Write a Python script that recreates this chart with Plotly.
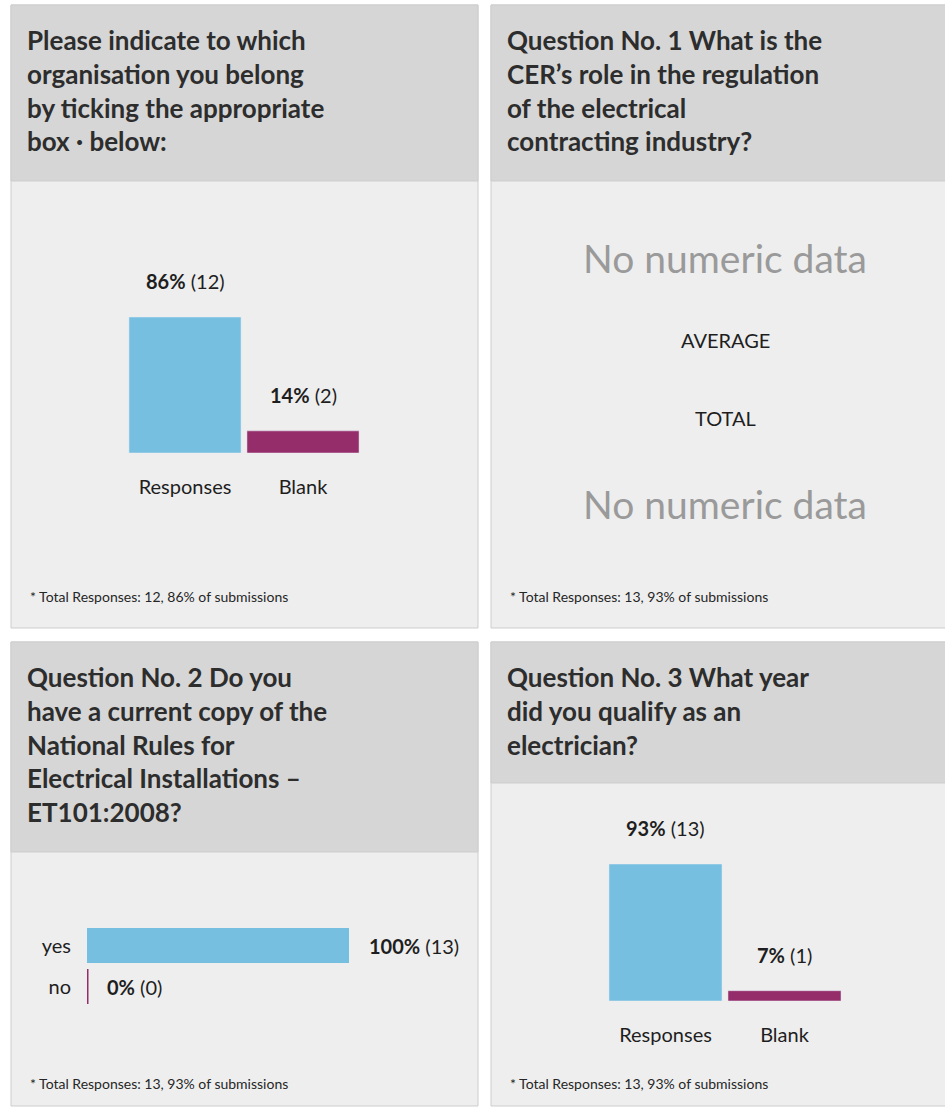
import plotly.graph_objects as go

# ---- survey data -------------------------------------------------------
org_categories = ["Responses", "Blank"]
org_pct = [86, 14]
org_counts = [12, 2]

q2_categories = ["yes", "no"]
q2_pct = [100, 0]
q2_counts = [13, 0]

q3_categories = ["Responses", "Blank"]
q3_pct = [93, 7]
q3_counts = [13, 1]

totals = [(12, 86), (13, 93), (13, 93), (13, 93)]

titles = [
    "Please indicate to which<br>organisation you belong<br>by ticking the appropriate<br>box · below:",
    "Question No. 1 What is the<br>CER\u2019s role in the regulation<br>of the electrical<br>contracting industry?",
    "Question No. 2 Do you<br>have a current copy of the<br>National Rules for<br>Electrical Installations \u2013<br>ET101:2008?",
    "Question No. 3 What year<br>did you qualify as an<br>electrician?",
]

BLUE = "#77bfe0"
PURPLE = "#952d6a"
FONT = "Lato"
W, H = 945, 1109


def px(x):
    return x / W


def py(y):
    return 1 - y / H


fig = go.Figure()

# ---- panels --------------------------------------------------------------
panels = [
    # (x0, x1, y0, header_bottom, y1)
    (11, 478, 5, 181, 628),
    (491, 946, 5, 181, 628),
    (11, 478, 642, 852, 1106),
    (491, 946, 642, 783, 1106),
]
shapes = []
for x0, x1, y0, hb, y1 in panels:
    shapes.append(dict(type="rect", xref="paper", yref="paper", layer="below",
                       x0=px(x0), x1=px(x1), y0=py(y1), y1=py(y0),
                       fillcolor="#eeeeee", line=dict(color="#cdcdcd", width=1)))
    shapes.append(dict(type="rect", xref="paper", yref="paper", layer="below",
                       x0=px(x0), x1=px(x1), y0=py(hb), y1=py(y0),
                       fillcolor="#d6d6d6", line=dict(color="#cdcdcd", width=1)))

annotations = []
title_pos = [(25, 22), (505, 22), (25, 659), (505, 659)]
for (tx, ty), t in zip(title_pos, titles):
    annotations.append(dict(xref="paper", yref="paper", x=px(tx), y=py(ty),
                            xanchor="left", yanchor="top", align="left",
                            showarrow=False, text="<b>" + t + "</b>",
                            font=dict(family=FONT, size=26, color="#2d2d2d")))

foot_pos = [(28, 596), (508, 596), (28, 1083), (508, 1083)]
for (fx, fy), (n, p) in zip(foot_pos, totals):
    annotations.append(dict(xref="paper", yref="paper", x=px(fx), y=py(fy),
                            xanchor="left", yanchor="middle", showarrow=False,
                            text=f"* Total Responses: {n}, {p}% of submissions",
                            font=dict(family=FONT, size=14, color="#262626")))

# Question 1 has no numeric answers
for txt, y, size, col in [("No numeric data", 258, 39, "#9a9a9a"),
                          ("AVERAGE", 340, 20, "#1e1e1e"),
                          ("TOTAL", 418, 20, "#1e1e1e"),
                          ("No numeric data", 504, 39, "#9a9a9a")]:
    annotations.append(dict(xref="paper", yref="paper", x=px(725), y=py(y),
                            xanchor="center", yanchor="middle", showarrow=False,
                            text=txt, font=dict(family=FONT, size=size, color=col)))

# ---- organisation chart (vertical bars) --------------------------------
fig.add_trace(go.Bar(x=org_categories, y=org_pct, marker_color=[BLUE, PURPLE],
                     width=0.95, xaxis="x", yaxis="y",
                     hoverinfo="skip", showlegend=False))
for c, p, n in zip(org_categories, org_pct, org_counts):
    annotations.append(dict(xref="x", yref="y", x=c, y=p, yshift=36,
                            xanchor="center", yanchor="middle", showarrow=False,
                            text=f"<b>{p}%</b> ({n})",
                            font=dict(family=FONT, size=20, color="#1e1e1e")))

# ---- question 2 (horizontal bars) --------------------------------------
fig.add_trace(go.Bar(y=q2_categories, x=q2_pct, orientation="h", width=0.85,
                     marker=dict(color=[BLUE, PURPLE],
                                 line=dict(color=[BLUE, PURPLE], width=[0, 3])),
                     xaxis="x2", yaxis="y2", hoverinfo="skip", showlegend=False))
for c, p, n in zip(q2_categories, q2_pct, q2_counts):
    annotations.append(dict(xref="x2", yref="y2", x=p, y=c, xshift=18,
                            xanchor="left", yanchor="middle", showarrow=False,
                            text=f"<b>{p}%</b> ({n})",
                            font=dict(family=FONT, size=20, color="#1e1e1e")))

# ---- question 3 (vertical bars) ----------------------------------------
fig.add_trace(go.Bar(x=q3_categories, y=q3_pct, marker_color=[BLUE, PURPLE],
                     width=0.95, xaxis="x3", yaxis="y3",
                     hoverinfo="skip", showlegend=False))
for c, p, n in zip(q3_categories, q3_pct, q3_counts):
    annotations.append(dict(xref="x3", yref="y3", x=c, y=p, yshift=36,
                            xanchor="center", yanchor="middle", showarrow=False,
                            text=f"<b>{p}%</b> ({n})",
                            font=dict(family=FONT, size=20, color="#1e1e1e")))

tick_font = dict(family=FONT, size=20, color="#1e1e1e")
hidden = dict(showgrid=False, zeroline=False, showline=False, showticklabels=False,
              ticks="", fixedrange=True)

fig.update_layout(
    width=W, height=H, margin=dict(l=0, r=0, t=0, b=0),
    paper_bgcolor="white", plot_bgcolor="rgba(0,0,0,0)",
    shapes=shapes, annotations=annotations,
    xaxis=dict(domain=[px(126), px(362)], anchor="y", range=[-0.5, 1.5],
               showgrid=False, zeroline=False, showline=False, ticks="",
               tickfont=tick_font, ticklabelstandoff=20, fixedrange=True),
    yaxis=dict(domain=[py(453), py(317)], anchor="x", range=[0, max(org_pct)], **hidden),
    xaxis2=dict(domain=[px(87), px(349)], anchor="y2", range=[0, max(q2_pct)], **hidden),
    yaxis2=dict(domain=[py(1007), py(925)], anchor="x2", range=[1.5, -0.5],
                showgrid=False, zeroline=False, showline=False, ticks="",
                tickfont=tick_font, ticklabelstandoff=15, fixedrange=True),
    xaxis3=dict(domain=[px(606), px(844)], anchor="y3", range=[-0.5, 1.5],
                showgrid=False, zeroline=False, showline=False, ticks="",
                tickfont=tick_font, ticklabelstandoff=20, fixedrange=True),
    yaxis3=dict(domain=[py(1001), py(864)], anchor="x3", range=[0, max(q3_pct)], **hidden),
)

fig.write_html("out.html")
